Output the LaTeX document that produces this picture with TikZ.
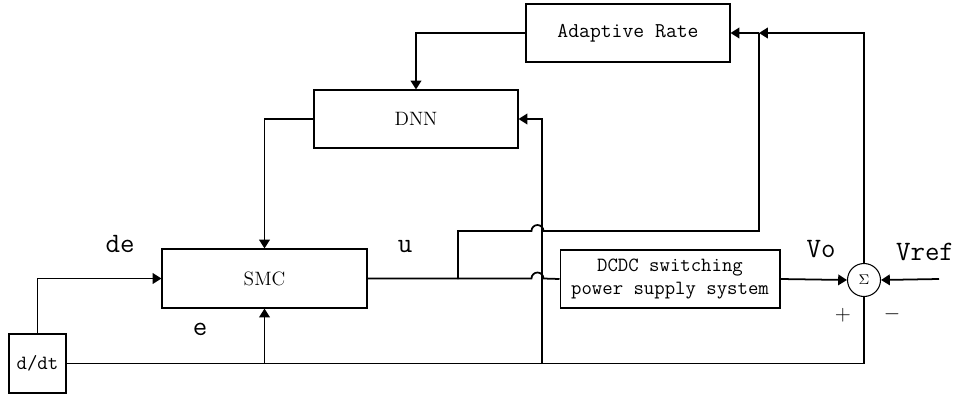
\documentclass[tikz,border=0pt]{standalone}
\usetikzlibrary{arrows.meta}

\begin{document}
\begin{tikzpicture}[x=0.02cm, y=-0.02cm,
  every node/.style={font=\ttfamily},
  blk/.style={draw, line width=0.6pt, inner sep=2pt, align=center},
  sm/.style={circle, draw, line width=0.6pt, inner sep=0pt, minimum size=0.66cm},
  lbl/.style={font=\ttfamily\fontsize{16}{18}\selectfont, inner sep=0pt},
  ar/.style={-{Triangle[length=5pt, width=6pt]}, line width=1pt},
  ln/.style={line width=1pt}]
\useasboundingbox (0,0) rectangle (960,396);

% ---------------- blocks ----------------
\node[blk, minimum width=4.08cm, minimum height=1.16cm, font=\ttfamily\fontsize{12}{13}\selectfont] (adapt) at (628,33) {Adaptive Rate};
\node[blk, minimum width=4.08cm, minimum height=1.16cm, font=\rmfamily\fontsize{11}{12}\selectfont] (dnn) at (416,119) {DNN};
\node[blk, minimum width=4.1cm, minimum height=1.18cm, font=\rmfamily\fontsize{11}{12}\selectfont] (smc) at (264.5,278.5) {SMC};
\node[blk, minimum width=4.4cm, minimum height=1.16cm, font=\ttfamily\fontsize{11.5}{13.6}\selectfont] (dcdc) at (670,279) {DCDC switching\\power supply system};
\node[blk, minimum width=1.14cm, minimum height=1.18cm, font=\ttfamily\fontsize{11.5}{13}\selectfont] (ddt) at (37.5,363.5) {d/dt};
\node[sm, font=\fontsize{8}{9}\selectfont] (sum) at (864,280) {$\Sigma$};

% ---------------- labels ----------------
\node[lbl] (lde) at (120,244) {de};
\node[lbl] (le) at (200,329) {e};
\node[lbl] (lu) at (405,247) {u};
\node[lbl] (lvo) at (821,249) {Vo};
\node[lbl] (lvref) at (925,252) {Vref};
\node[font=\fontsize{13}{14}\selectfont, inner sep=0pt] (lplus) at (843,315) {$+$};
\node[font=\fontsize{13}{14}\selectfont, inner sep=0pt] (lminus) at (892,314) {$-$};

% ---------------- junctions ----------------
\coordinate (jb) at (smc.south |- ddt.east);
\coordinate (jd) at (542,364);
\coordinate (ju) at (458,279);
\coordinate (jt) at (759,33);
\coordinate (vin) at (939,279);

% ---------------- adaptive rate -> DNN -> SMC ----------------
\draw[ar] (adapt.west) -| (dnn.north);
\draw[ar] (dnn.west) -| (smc.north);

% ---------------- error signals ----------------
\draw[ln] (sum.south) |- (ddt.east);
\draw[ar] (ddt.north) |- (smc.west);
\draw[ar] (jb) -- (smc.south);
\draw[ar] (jd) |- (dnn.east);

% ---------------- control u, with hops over the DNN feed ----------------
\draw[ln] (smc.east) -- ([xshift=-6]jd |- smc.east) arc (180:360:6) -- (dcdc.west);
\draw[ln] (ju) -- (458,231) -- ([xshift=-6]jd |- 0,231) arc (180:360:6) -- (759,231) -- (jt);
\draw[ar] (jt) -- (adapt.east);

% ---------------- output and reference ----------------
\draw[ar] (dcdc.east) -- (sum.west);
\draw[ar] (vin) -- (sum.east);
\draw[ar] (sum.north) |- (jt);
\end{tikzpicture}
\end{document}
